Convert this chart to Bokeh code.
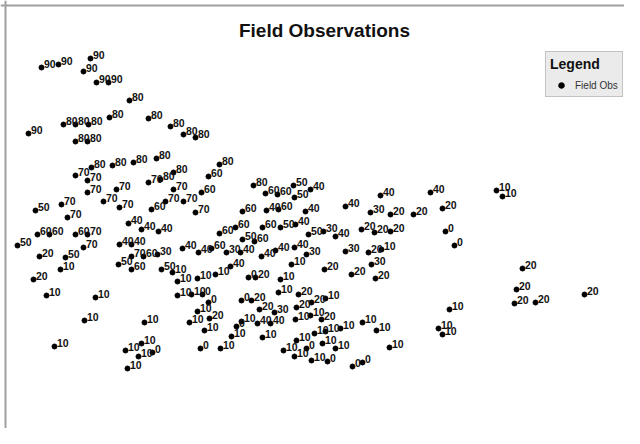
from bokeh.plotting import figure
from bokeh.models import Range1d, Label, Legend, LegendItem, Span, ColumnDataSource
from bokeh.transform import dodge
from bokeh.core.properties import value
from bokeh.embed import file_html
from bokeh.resources import INLINE

obs_x = [41, 58, 90, 83, 96, 108, 129, 109, 148, 63, 75, 88, 75, 87, 28, 170, 183, 195,
         91, 75, 87, 87, 112, 133, 156, 116, 103, 119, 148, 160, 173, 173, 165, 183, 201, 208,
         151, 195, 35, 61, 67, 37, 49, 75, 87, 83, 17, 39, 65, 60, 128, 141, 158, 119, 131,
         131, 143, 118, 131, 157, 161, 172, 182, 198,
         219, 253, 265, 277, 293, 294, 310, 242, 266, 278, 305, 345, 380, 370, 390, 413,
         219, 235, 242, 254, 262, 280, 295, 308, 323, 335, 361, 374, 390, 368, 381, 371, 375,
         345, 324, 351, 211, 226, 240, 230, 215, 261, 275, 294, 306, 291, 248, 255, 280, 278,
         430, 442, 445, 454, 496, 502, 522,
         33, 46, 95, 84, 54, 144, 141, 125, 138, 152, 127, 189, 200, 204, 177, 177, 197, 191,
         202, 208, 197, 209,
         298, 241, 251, 259, 274, 296, 311, 325, 310, 321, 295, 241, 257, 270, 236, 231, 220,
         262, 314, 325, 340, 362, 376, 296, 306, 283, 294, 322, 335, 311, 327, 352, 362, 389,
         516, 514, 535, 584, 449, 438, 442]
obs_y = [67, 64, 58, 71, 82, 82, 100, 117, 118, 124, 124, 124, 141, 141, 133, 126, 134, 137,
         167, 175, 180, 192, 165, 162, 158, 189, 201, 207, 182, 179, 172, 189, 201, 201, 192, 176,
         209, 212, 210, 204, 217, 234, 234, 234, 234, 247, 245, 256, 257, 269, 223, 229, 231, 244, 244,
         256, 256, 264, 269, 254, 269, 272, 248, 252,
         164, 185, 193, 194, 185, 197, 189, 211, 210, 209, 211, 206, 195, 212, 214, 214,
         233, 227, 239, 241, 227, 227, 224, 234, 231, 236, 229, 232, 231, 252, 249, 264, 278,
         251, 269, 274, 248, 252, 252, 266, 274, 256, 250, 247, 254, 264, 277, 277, 279, 292,
         192, 208, 231, 245, 190, 196, 268,
         279, 295, 297, 320, 346, 322, 343, 350, 356, 352, 368, 322, 348, 330, 281, 295, 278, 294,
         294, 302, 311, 318,
         294, 300, 300, 309, 312, 307, 302, 298, 315, 319, 319, 321, 323, 323, 326, 336, 348,
         337, 333, 331, 328, 322, 330, 340, 348, 350, 356, 343, 348, 360, 361, 366, 362, 347,
         289, 303, 302, 294, 309, 328, 334]
obs_value = ["90", "90", "90", "90", "90", "90", "80", "80", "80", "80", "80", "80", "80", "80", "90", "80", "80", "80",
             "80", "70", "70", "70", "80", "80", "80", "70", "70", "70", "70", "80", "80", "70", "70", "70", "60", "60",
             "60", "70", "50", "70", "70", "60", "60", "60", "70", "70", "50", "20", "50", "10", "40", "40", "40", "40", "40",
             "70", "60", "50", "60", "30", "50", "10", "40", "40",
             "80", "80", "60", "60", "50", "50", "40", "60", "40", "60", "40", "40", "40", "30", "20", "20",
             "60", "60", "50", "60", "60", "50", "40", "50", "30", "40", "20", "20", "20", "20", "10", "30", "20",
             "30", "20", "20", "60", "30", "40", "40", "10", "40", "40", "40", "30", "10", "0", "20", "10", "10",
             "40", "20", "0", "0", "10", "10", "20",
             "20", "10", "10", "10", "10", "10", "10", "10", "10", "0", "10", "10", "0", "10", "10", "10", "10", "10",
             "0", "0", "10", "20",
             "20", "0", "20", "20", "30", "20", "20", "10", "10", "20", "10", "10", "40", "40", "0", "10", "10",
             "10", "10", "10", "10", "10", "10", "10", "0", "10", "10", "10", "10", "10", "0", "0", "0", "10",
             "20", "20", "20", "20", "10", "10", "10"]

title_text = "Field Observations"
legend_title = "Legend"
legend_label = "Field Obs"

W, H = 624, 428
p = figure(width=W, height=H, output_backend="svg", toolbar_location=None,
           x_range=Range1d(0, W), y_range=Range1d(H, 0),
           x_axis_location=None, y_axis_location=None, min_border=0,
           background_fill_color="white", border_fill_color="white")
p.grid.visible = False
p.outline_line_color = None

src = ColumnDataSource(dict(x=obs_x, y=obs_y, v=obs_value))
pts = p.scatter("x", "y", source=src, size=5, marker="circle",
                fill_color="black", line_color="black")
p.text(x=dodge("x", 2.5, range=p.x_range), y=dodge("y", -4, range=p.y_range), text="v",
       source=src, text_font=value("Liberation Sans"), text_font_style="bold",
       text_font_size="10.5px", text_color="#111111", text_align="left",
       text_baseline="alphabetic")

p.add_layout(Span(location=5, dimension="height", line_color="#a0a0a0", line_width=2))
p.add_layout(Span(location=5, dimension="width", line_color="#a0a0a0", line_width=2))

p.add_layout(Label(x=324, y=30, text=title_text, text_align="center",
                   text_baseline="alphabetic", text_font="Liberation Sans",
                   text_font_style="bold", text_font_size="19px", text_color="#111111"))

legend = Legend(items=[LegendItem(label=legend_label, renderers=[pts])],
                location=(545, 331), title=legend_title,
                title_text_font="Liberation Sans", title_text_font_style="bold",
                title_text_font_size="14px", title_text_color="#111111", title_standoff=6,
                label_text_font="Liberation Sans", label_text_font_size="10px",
                label_text_color="#333333", padding=4, spacing=0, margin=0,
                glyph_width=22, glyph_height=14, label_height=14, label_standoff=3,
                background_fill_color="#ebebeb", background_fill_alpha=1.0,
                border_line_color="#9a9a9a", border_line_width=1)
p.add_layout(legend)

open("out.html", "w").write(file_html(p, INLINE))
